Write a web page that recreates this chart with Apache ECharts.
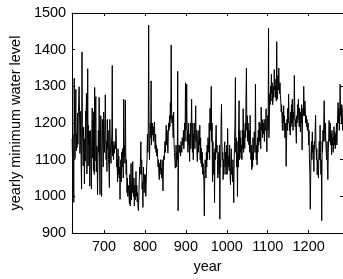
<!DOCTYPE html>
<html>
<head>
<meta charset="utf-8">
<script src="https://cdn.jsdelivr.net/npm/echarts@6/dist/echarts.min.js"></script>
<style>html,body{margin:0;padding:0;background:#fff}#c{width:343px;height:279px}</style>
</head>
<body>
<div id="c"></div>
<script>
var startYear = 622;
var levels = [
1157,1088,1169,1169,984,1322,1178,1103,
1211,1292,1124,1171,1133,1227,1142,1216,1259,1299,
1232,1117,1155,1232,1083,1020,1394,1196,1148,1083,
1189,1133,1034,1157,1096,1233,1211,1281,1061,1142,
1348,1083,1194,1139,1178,1028,1107,1180,1103,1020,
1160,1241,1105,1209,1070,1231,1060,1297,1097,1256,
1272,1067,1138,1130,1005,1090,1180,1120,1270,1110,
1005,1150,1220,1090,1000,1180,1210,1140,1080,1230,
1200,1120,1160,1277,1180,1100,1150,1068,1210,1130,
1180,1100,1073,1024,1210,1150,1110,1090,1140,1170,
1357,1110,1150,1100,1140,1118,1120,1150,1130,1185,
1150,1080,1100,1040,1130,1060,1110,1050,1080,992,
1060,1100,1040,1120,1080,1130,1100,1050,1265,1110,
1140,1090,1262,1120,1060,1100,1010,1050,1000,997,
1030,1000,980,1060,974,1020,1090,990,1040,1010,
1095,1020,1000,1050,974,1030,990,1010,1068,1000,
1030,985,1010,970,961,1000,1040,1080,1060,1110,
1149,1060,1100,1020,1040,970,1080,1050,1010,1060,
1040,1059,1000,997,1080,1100,1170,1120,1180,1467,
1180,1100,1150,1200,1160,1315,1140,1180,1200,1167,
1190,1150,1170,1203,1160,1130,1170,1120,1140,1110,
1130,1104,1080,1100,1060,1046,1090,1070,1100,1060,
1077,1050,1100,1060,1015,1080,1110,1100,1130,1150,
1120,1160,1194,1140,1180,1150,1118,1170,1200,1180,
1220,1190,1256,1210,1413,1240,1200,1220,1190,1160,
1230,1150,1120,1100,1077,1090,1140,1080,1120,1100,
1341,961,1100,1140,1120,1140,1130,1110,1150,1140,
1120,1160,1158,1140,1180,1130,1160,1200,1150,1310,
1180,1200,1306,1150,1180,1120,1200,1140,1170,1095,
1150,1200,1130,1180,1265,1160,1120,1200,1100,1170,
1158,1200,1130,1190,1247,1150,1180,1120,1095,1160,
1180,1120,1150,1140,1194,1100,1160,1090,1131,1080,
1120,1060,1090,1070,1040,947,1060,1100,1086,1050,
1120,1080,1140,1100,1160,1158,1120,1200,1100,1240,
1180,1230,1300,1150,1200,1040,1150,1100,1060,1120,
983,1130,1100,1160,1194,1120,1140,1100,1050,1082,
1120,1060,1140,938,1100,1080,1200,1251,1150,1100,
1120,1046,1100,1060,1130,1149,1080,1120,1060,1100,
1140,1060,1185,1120,1080,1110,1070,1140,1060,1032,
1100,1130,1060,1080,1040,1100,1050,983,1100,1150,
1200,1324,1120,1160,1080,1150,1000,1120,1080,1200,
1261,1100,1180,1120,1160,1104,1140,1100,1180,1130,
1239,1120,1180,1150,1131,1200,1160,1280,1350,1180,
1220,1150,1200,1167,1140,1180,1120,1221,1160,1100,
1140,1073,1120,1080,1160,1100,1140,1176,1150,1120,
1306,1150,1100,1140,1086,1160,1120,1180,1140,1203,
1150,1200,1170,1130,1243,1180,1200,1160,1210,1170,
1200,1176,1150,1210,1180,1190,1239,1160,1122,1200,
1220,1180,1458,1160,1212,1280,1250,1300,1260,1333,
1280,1310,1250,1261,1300,1270,1346,1290,1320,1270,
1300,1260,1422,1280,1265,1330,1290,1350,1300,1280,
1310,1274,1260,1230,1250,1212,1180,1230,1200,1247,
1180,1220,1160,1158,1200,1082,1150,1210,1180,1240,
1200,1279,1220,1180,1200,1167,1230,1190,1250,1200,
1265,1200,1180,1230,1210,1330,1240,1190,1210,1180,
1145,1220,1200,1250,1210,1265,1220,1190,1240,1200,
1176,1230,1200,1250,1127,1210,1240,1220,1300,1250,
1220,1260,1230,1200,1220,1190,1210,1180,1176,1200,
1140,1180,1100,1060,965,1050,1120,1150,1100,1176,
1120,1140,1100,1068,1150,1130,1180,1221,1140,1100,
1130,1059,1100,1080,1050,1120,1150,1100,1194,1120,
1060,1100,934,1150,1120,1180,1150,1200,1261,1180,
1150,1200,1149,1120,1100,1150,1080,1046,1120,1160,
1207,1150,1180,1200,1140,1170,1113,1180,1140,1160,
1120,1150,1190,1140,1176,1130,1170,1150,1200,1140,
1180,1220,1256,1200,1240,1180,1230,1306,1220,1250,
1200,1250,1220,1180,1240
];
var xTicks = [700, 800, 900, 1000, 1100, 1200];
var yTicks = [900, 1000, 1100, 1200, 1300, 1400, 1500];

var pts = levels.map(function (v, i) { return [startYear + i, v]; });
var font = 'Liberation Sans, Arial, Helvetica, sans-serif';
var plain = function (v) { return String(v); };
var chart = echarts.init(document.getElementById('c'), null, {renderer: 'canvas'});
var lineStyle = {color: '#000', width: 1};
chart.setOption({
  animation: false,
  grid: {left: 61, top: 13, width: 284, height: 223, show: false},
  xAxis: [{
    type: 'value', min: 622, max: 1284, position: 'bottom',
    name: 'year', nameLocation: 'middle', nameGap: 23,
    nameTextStyle: {fontFamily: font, fontSize: 14.5, color: '#000'},
    axisLine: {show: true, lineStyle: lineStyle},
    axisTick: {show: true, inside: true, length: 3, customValues: xTicks, lineStyle: lineStyle},
    axisLabel: {customValues: xTicks, formatter: plain, fontFamily: font, fontSize: 14.5, color: '#000', margin: 6},
    splitLine: {show: false}
  }, {
    type: 'value', min: 622, max: 1284, position: 'top',
    axisLine: {show: true, lineStyle: lineStyle},
    axisTick: {show: true, inside: true, length: 3, customValues: xTicks, lineStyle: lineStyle},
    axisLabel: {show: false},
    splitLine: {show: false}
  }],
  yAxis: [{
    type: 'value', min: 900, max: 1500, interval: 100, position: 'left',
    name: 'yearly minimum water level', nameLocation: 'middle', nameGap: 42,
    nameTextStyle: {fontFamily: font, fontSize: 14.5, color: '#000'},
    axisLine: {show: true, lineStyle: lineStyle},
    axisTick: {show: true, inside: true, length: 3, lineStyle: lineStyle},
    axisLabel: {formatter: plain, fontFamily: font, fontSize: 14.5, color: '#000', margin: 6},
    splitLine: {show: false}
  }, {
    type: 'value', min: 900, max: 1500, interval: 100, position: 'right',
    axisLine: {show: true, lineStyle: lineStyle},
    axisTick: {show: true, inside: true, length: 3, lineStyle: lineStyle},
    axisLabel: {show: false},
    splitLine: {show: false}
  }],
  series: [{
    type: 'line', data: pts, showSymbol: false, symbol: 'none',
    lineStyle: {color: '#000', width: 1}, xAxisIndex: 0, yAxisIndex: 0
  }]
});
</script>
</body>
</html>
